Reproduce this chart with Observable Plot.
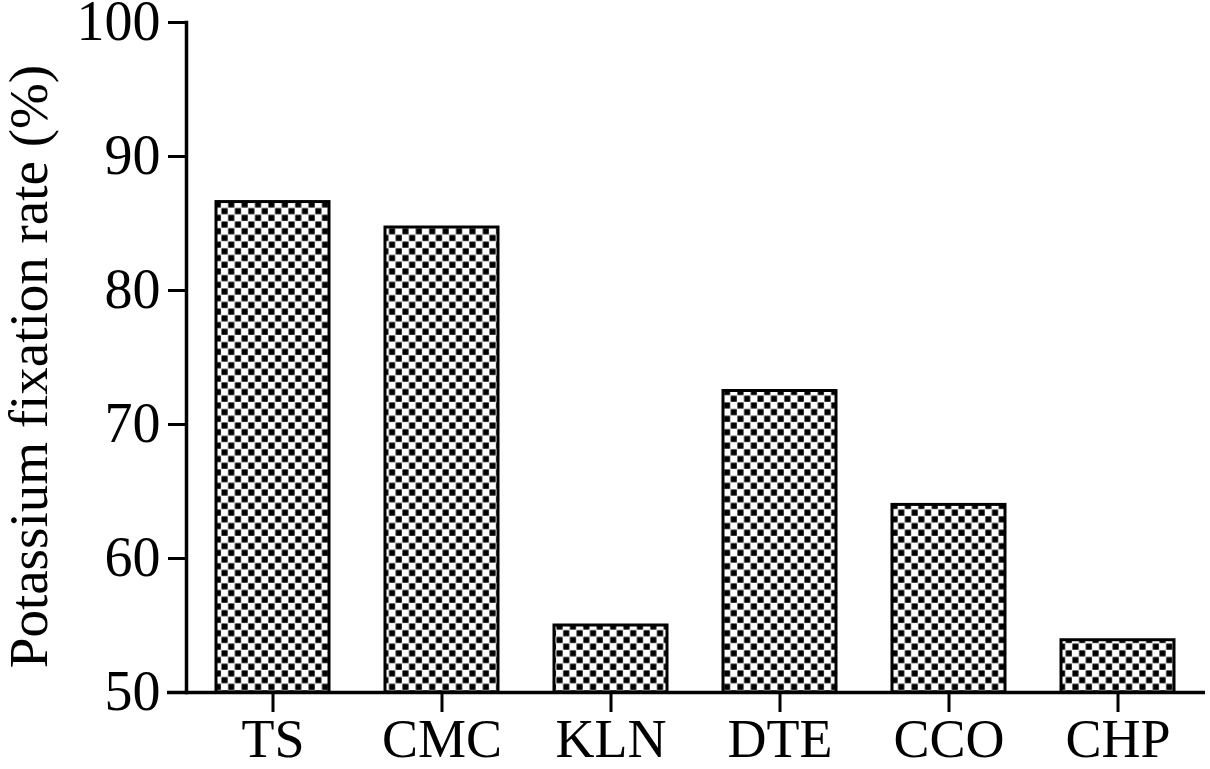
<!DOCTYPE html>
<html>
<head>
<meta charset="utf-8">
<script src="https://cdn.jsdelivr.net/npm/d3@7"></script>
<script src="https://cdn.jsdelivr.net/npm/@observablehq/plot@0.6"></script>
<style>
  html, body { margin: 0; padding: 0; background: #fff; }
  #chart { width: 1210px; height: 769px; }
</style>
</head>
<body>
<div id="chart"></div>
<script>
const categories = ["TS", "CMC", "KLN", "DTE", "CCO", "CHP"];
const values = [86.6, 84.7, 55.0, 72.5, 64.0, 53.9];
const yTicks = [50, 60, 70, 80, 90, 100];
const yLabel = "Potassium fixation rate (%)";

const data = categories.map((c, i) => ({category: c, value: values[i]}));

const svg = Plot.plot({
  width: 1210,
  height: 769,
  marginLeft: 186,
  marginRight: 6,
  marginTop: 22,
  marginBottom: 77,
  style: {fontFamily: "'Liberation Serif', 'Times New Roman', serif", fontSize: "54px", color: "#000", background: "#fff", overflow: "visible"},
  x: {domain: categories, padding: 0, label: null},
  y: {domain: [50, 100], label: null},
  marks: [
    Plot.barY(data, {
      x: "category", y1: 50, y2: "value",
      fill: "url(#checker)", stroke: "#000", strokeWidth: 3,
      insetLeft: 28, insetRight: 28
    }),
    Plot.axisY({ticks: yTicks, tickSize: 18, tickPadding: 8, tickFormat: d => String(d), strokeWidth: 3, label: null, fontSize: 56}),
    Plot.axisX({tickSize: 20, tickPadding: 6, strokeWidth: 3, label: null, fontSize: 54}),
    Plot.frame({anchor: "left", strokeWidth: 3.5}),
    Plot.ruleY([50], {strokeWidth: 3.5, insetLeft: -19, insetRight: -1}),
    Plot.text([yLabel], {frameAnchor: "left", dx: -179, dy: 9, rotate: -90, fontSize: 55, textAnchor: "middle", lineAnchor: "top"})
  ]
});

const defs = d3.select(svg).insert("defs", ":first-child");
const pat = defs.append("pattern")
  .attr("id", "checker")
  .attr("patternUnits", "userSpaceOnUse")
  .attr("width", 13.4).attr("height", 13.4);
pat.append("rect").attr("width", 13.4).attr("height", 13.4).attr("fill", "#fff");
pat.append("rect").attr("x", 0.4).attr("y", 0.4).attr("width", 6.1).attr("height", 6.1).attr("fill", "#000");
pat.append("rect").attr("x", 7.1).attr("y", 7.1).attr("width", 6.1).attr("height", 6.1).attr("fill", "#000");

document.getElementById("chart").appendChild(svg);
</script>
</body>
</html>
